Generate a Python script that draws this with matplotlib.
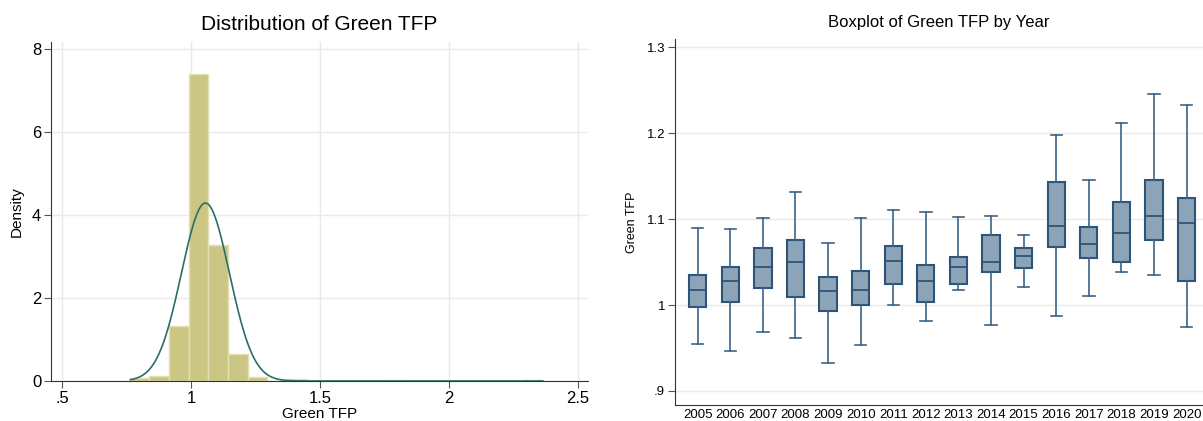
import numpy as np
import matplotlib
matplotlib.use("Agg")
import matplotlib.pyplot as plt

plt.rcParams['font.family'] = ['Liberation Sans', 'DejaVu Sans']

# histogram of Green TFP (density)
bin_start = 0.762
bin_width = 0.0763
hist_heights = [0.07, 0.12, 1.33, 7.40, 3.28, 0.65, 0.10, 0.0, 0.05, 0.0,
                0.0, 0.0, 0.0, 0.03, 0.0, 0.0, 0.0, 0.0, 0.0, 0.0, 0.03]
norm_mean = 1.056
norm_sd = 0.093
x_ticks_left = [0.5, 1, 1.5, 2, 2.5]
x_ticklabels_left = ['.5', '1', '1.5', '2', '2.5']
y_ticks_left = [0, 2, 4, 6, 8]

# boxplot stats by year
years = ['2005', '2006', '2007', '2008', '2009', '2010', '2011', '2012',
         '2013', '2014', '2015', '2016', '2017', '2018', '2019', '2020']
whisk_lo = [0.955, 0.946, 0.969, 0.962, 0.933, 0.954, 1.000, 0.982,
            1.017, 0.977, 1.021, 0.987, 1.011, 1.038, 1.035, 0.975]
q1 = [0.998, 1.003, 1.020, 1.009, 0.993, 1.000, 1.025, 1.004,
      1.024, 1.039, 1.043, 1.067, 1.055, 1.050, 1.076, 1.028]
med = [1.017, 1.028, 1.044, 1.050, 1.016, 1.017, 1.051, 1.028,
       1.044, 1.050, 1.057, 1.092, 1.071, 1.084, 1.104, 1.096]
q3 = [1.035, 1.044, 1.066, 1.076, 1.033, 1.040, 1.069, 1.047,
      1.056, 1.081, 1.066, 1.143, 1.091, 1.120, 1.146, 1.124]
whisk_hi = [1.090, 1.088, 1.101, 1.132, 1.072, 1.101, 1.110, 1.108,
            1.102, 1.104, 1.082, 1.198, 1.146, 1.212, 1.246, 1.233]
y_ticks_right = [0.9, 1.0, 1.1, 1.2, 1.3]
y_ticklabels_right = ['.9', '1', '1.1', '1.2', '1.3']

fig = plt.figure(figsize=(12.03, 4.21), dpi=100)

# ---- left: histogram ----
ax1 = fig.add_axes([0.0424, 0.095, 0.4464, 0.805])
edges = bin_start + bin_width * np.arange(len(hist_heights) + 1)
ax1.bar(edges[:-1], hist_heights, width=bin_width, align='edge',
        color='#CCC685', edgecolor='#E4E0B4', linewidth=1, zorder=2)
xs = np.linspace(0.765, edges[-1], 400)
ys = np.exp(-0.5 * ((xs - norm_mean) / norm_sd) ** 2) / (norm_sd * np.sqrt(2 * np.pi))
ax1.plot(xs, ys, color='#2A6E6A', linewidth=1.2, zorder=3)
ax1.set_xlim(0.457, 2.54)
ax1.set_ylim(0, 8.17)
ax1.set_xticks(x_ticks_left)
ax1.set_xticklabels(x_ticklabels_left)
ax1.set_yticks(y_ticks_left)
ax1.grid(True, color='#EAEAEA', linewidth=1, zorder=0)
ax1.set_axisbelow(True)
for s in ['top', 'right']:
    ax1.spines[s].set_visible(False)
for s in ['left', 'bottom']:
    ax1.spines[s].set_color('#333333')
ax1.tick_params(labelsize=12, length=5, color='#555555', pad=2)
ax1.set_xlabel('Green TFP', fontsize=11, labelpad=1)
ax1.set_ylabel('Density', fontsize=11, labelpad=6)
ax1.set_title('Distribution of Green TFP', fontsize=15, pad=9)

# ---- right: boxplot ----
ax2 = fig.add_axes([0.561, 0.038, 0.4389, 0.869])
stats = []
for i in range(len(years)):
    stats.append({'whislo': whisk_lo[i], 'q1': q1[i], 'med': med[i],
                  'q3': q3[i], 'whishi': whisk_hi[i], 'label': years[i]})
ax2.bxp(stats, positions=np.arange(len(years)), widths=0.53, patch_artist=True,
        showfliers=False,
        boxprops=dict(facecolor='#8DA3B8', edgecolor='#2D5479', linewidth=1.5),
        medianprops=dict(color='#2D5479', linewidth=1.3),
        whiskerprops=dict(color='#3B6488', linewidth=1.2),
        capprops=dict(color='#3B6488', linewidth=1.2),
        capwidths=0.35)
ax2.set_xlim(-0.7, 15.5)
ax2.set_ylim(0.8837, 1.3093)
ax2.set_yticks(y_ticks_right)
ax2.set_yticklabels(y_ticklabels_right)
ax2.grid(True, axis='y', color='#EAEAEA', linewidth=1, zorder=0)
ax2.set_axisbelow(True)
for s in ['top', 'right']:
    ax2.spines[s].set_visible(False)
for s in ['left', 'bottom']:
    ax2.spines[s].set_color('#333333')
ax2.tick_params(axis='y', labelsize=9.5, length=5, color='#555555', pad=2)
ax2.tick_params(axis='x', labelsize=9.5, length=0, pad=3)
ax2.set_ylabel('Green TFP', fontsize=9, labelpad=6)
ax2.set_title('Boxplot of Green TFP by Year', fontsize=12, pad=9)

fig.savefig('out.png', dpi=100)
